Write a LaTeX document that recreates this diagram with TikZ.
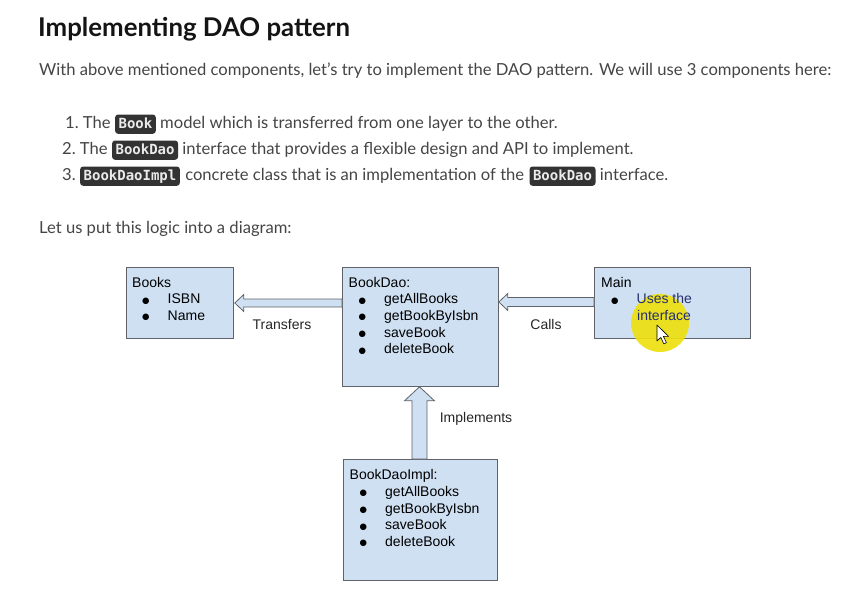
\documentclass[tikz,border=0pt]{standalone}
\usepackage{fontspec}
\setmainfont{Lato}
\newfontfamily\arialf{Liberation Sans}
\newfontfamily\monof{DejaVu Sans Mono}
\newfontfamily\dejav{DejaVu Sans}
\usetikzlibrary{calc}
\definecolor{boxblue}{HTML}{CFE0F3}
\definecolor{boxline}{HTML}{5F6368}
\definecolor{bodytext}{HTML}{454545}
\definecolor{badgebg}{HTML}{333333}
\definecolor{navy}{HTML}{26306E}
\definecolor{hilite}{HTML}{EDE010}
\begin{document}
\begin{tikzpicture}[x=1pt,y=-1pt,
  boxnode/.style={draw=boxline, line width=0.8pt, fill=boxblue, minimum width=#1, inner sep=0pt, anchor=north west},
  boxtext/.style={font=\arialf\fontsize{14}{16.6}\selectfont, text=black, align=left, anchor=north west, inner sep=0pt},
  lbl/.style={font=\arialf\fontsize{14}{16.6}\selectfont, text=black!85, inner sep=0pt},
  fat/.style={draw=boxline, line width=0.8pt, fill=boxblue, line join=miter},
  body/.style={font=\fontsize{16.6}{19}\selectfont, text=bodytext, inner sep=0pt, anchor=base west},
  badge/.style={font=\monof\bfseries\fontsize{14}{15}\selectfont, text=white!92!black, fill=badgebg, rounded corners=3pt, inner xsep=3.5pt, inner ysep=3pt, anchor=base west, text depth=2.8pt, text height=10.5pt}
]
\useasboundingbox[fill=white] (0,0) rectangle (850,605);

% ---------- header text ----------
\node[font=\bfseries\fontsize{25.8}{28}\selectfont, text=black!92, inner sep=0pt, anchor=base west] (title) at (38,36) {Implementing DAO pattern};
\node[body] (intro) at (39,75) {With above mentioned components, let's try to implement the DAO pattern. We will use 3 components here:};

\node[body] (n1) at (65,128) {1.\ The};
\node[badge] (b1) at ([xshift=4pt]n1.base east) {Book};
\node[body] (r1) at ([xshift=4pt]b1.base east) {model which is transferred from one layer to the other.};

\node[body] (n2) at (62,154) {2.\ The};
\node[badge] (b2) at ([xshift=4pt]n2.base east) {BookDao};
\node[body] (r2) at ([xshift=4pt]b2.base east) {interface that provides a flexible design and API to implement.};

\node[body] (n3) at (62,180) {3.};
\node[badge] (b3) at ([xshift=4pt]n3.base east) {BookDaoImpl};
\node[body] (r3) at ([xshift=5pt]b3.base east) {concrete class that is an implementation of the};
\node[badge] (b4) at ([xshift=5pt]r3.base east) {BookDao};
\node[body] (r4) at ([xshift=4pt]b4.base east) {interface.};

\node[body] (let) at (39,233) {Let us put this logic into a diagram:};

% ---------- boxes ----------
\node[boxnode=107pt, minimum height=71pt] (books) at (126,267) {};
\node[boxnode=156pt, minimum height=119pt] (dao) at (342,267) {};
\node[boxnode=156pt, minimum height=71pt] (main) at (594,267) {};
\node[boxnode=154pt, minimum height=121pt] (impl) at (343,459) {};

% ---------- fat arrows ----------
% Transfers: dao -> books
\coordinate (tS) at ($(dao.north west)+(0,36)$);
\coordinate (tT) at ($(books.north east)+(1,36)$);
\draw[fat] ($(tS)+(0,-4)$) -- ($(tT)+(9,-4)$) -- ($(tT)+(9,-8.5)$) -- (tT) -- ($(tT)+(9,8.5)$) -- ($(tT)+(9,4)$) -- ($(tS)+(0,4)$) -- cycle;
% Calls: main -> dao
\coordinate (cS) at ($(main.north west)+(0,35)$);
\coordinate (cT) at ($(dao.north east)+(0,35)$);
\draw[fat] ($(cS)+(0,-4.5)$) -- ($(cT)+(9,-4.5)$) -- ($(cT)+(9,-8.5)$) -- (cT) -- ($(cT)+(9,8.5)$) -- ($(cT)+(9,4.5)$) -- ($(cS)+(0,4.5)$) -- cycle;
% Implements: impl -> dao
\coordinate (iS) at ($(impl.north west)+(76.5,0)$);
\coordinate (iT) at (iS |- dao.south);
\draw[fat] ($(iS)+(-7.5,0)$) -- ($(iT)+(-7.5,14)$) -- ($(iT)+(-15,14)$) -- (iT) -- ($(iT)+(15,14)$) -- ($(iT)+(7.5,14)$) -- ($(iS)+(7.5,0)$) -- cycle;

% ---------- arrow labels ----------
\node[lbl] (ltr) at (282,324) {Transfers};
\node[lbl] (lca) at (546,324) {Calls};
\node[lbl] (lim) at (476,419) {Implements};

% ---------- highlight (behind text of Main) ----------
\fill[hilite, opacity=0.92] (660,323) circle (29pt);

% ---------- box texts ----------
\newcommand{\bul}{\makebox[25.5pt][l]{\raisebox{0.6pt}{\dejav\fontsize{8.5}{8.5}\selectfont ●}}}
\newcommand{\itm}[1]{\hspace*{10pt}\bul#1}
\node[boxtext] (tbooks) at ($(books.north west)+(6,10)$) {Books\\\itm{ISBN}\\\itm{Name}};
\node[boxtext] (tdao) at ($(dao.north west)+(6.5,10)$) {BookDao:\\\itm{getAllBooks}\\\itm{getBookByIsbn}\\\itm{saveBook}\\\itm{deleteBook}};
\node[boxtext] (tmain) at ($(main.north west)+(7,10)$) {Main\\\hspace*{10pt}\bul\textcolor{navy}{Uses the}\\\hspace*{36pt}\textcolor{navy}{interface}};
\node[boxtext] (timpl) at ($(impl.north west)+(6.5,10.5)$) {BookDaoImpl:\\\itm{getAllBooks}\\\itm{getBookByIsbn}\\\itm{saveBook}\\\itm{deleteBook}};

% ---------- mouse cursor ----------
\coordinate (cur) at (657,325);
\draw[fill=white, draw=black, line width=0.6pt, line join=round] (cur) -- ++(0,16) -- ++(3.8,-3.6) -- ++(3,6.5) -- ++(2.6,-1.2) -- ++(-3,-6.3) -- ++(5.2,0) -- cycle;
\end{tikzpicture}
\end{document}
